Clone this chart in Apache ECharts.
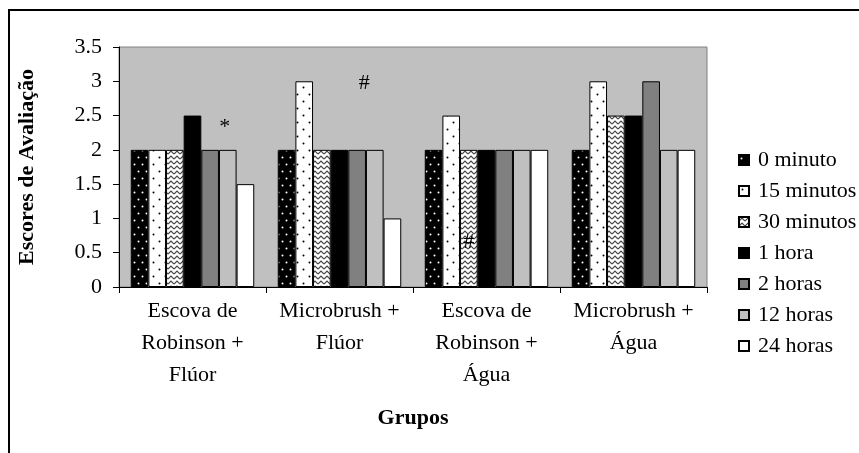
<!DOCTYPE html>
<html lang="pt">
<head>
<meta charset="UTF-8">
<title>Escores de Avaliação</title>
<script src="https://cdn.jsdelivr.net/npm/echarts@6/dist/echarts.min.js"></script>
<style>
  html, body { margin: 0; padding: 0; background: #fff; }
  #chart { width: 859px; height: 453px; }
</style>
</head>
<body>
<div id="chart"></div>
<script>
  // grupos (eixo x) e tempos (legenda)
  var grupos = ['Escova de\nRobinson +\nFlúor', 'Microbrush +\nFlúor', 'Escova de\nRobinson +\nÁgua', 'Microbrush +\nÁgua'];
  var tempos = ['0 minuto', '15 minutos', '30 minutos', '1 hora', '2 horas', '12 horas', '24 horas'];

  // escores por tempo, um valor por grupo
  var min0    = [2, 2, 2, 2];
  var min15   = [2, 3, 2.5, 3];
  var min30   = [2, 2, 2, 2.5];
  var hora1   = [2.5, 2, 2, 2.5];
  var horas2  = [2, 2, 2, 3];
  var horas12 = [2, 2, 2, 2];
  var horas24 = [1.5, 1, 2, 2];
  var valores = [min0, min15, min30, hora1, horas2, horas12, horas24];

  // eixo y
  var yMin = 0, yMax = 3.5, yPasso = 0.5;

  // marcas de significância: [grupo, tempo, texto]
  var marcas = [[0, 5, '*'], [1, 4, '#'], [2, 2, '#']];

  var fonte = 'Liberation Serif, Times New Roman, serif';
  var tam = 22;

  // texturas das barras
  function pontos(fundo, cor, w, h, pts) {
    var c = document.createElement('canvas');
    c.width = w; c.height = h;
    var g = c.getContext('2d');
    g.fillStyle = fundo; g.fillRect(0, 0, w, h);
    g.fillStyle = cor;
    pts.forEach(function (p) {
      g.beginPath(); g.arc(p[0], p[1], 1, 0, Math.PI * 2); g.fill();
    });
    return { image: c, repeat: 'repeat' };
  }
  function zigue() {
    var c = document.createElement('canvas');
    c.width = 6; c.height = 5;
    var g = c.getContext('2d');
    g.fillStyle = '#fff'; g.fillRect(0, 0, 6, 5);
    g.strokeStyle = '#444'; g.lineWidth = 1.2;
    g.beginPath(); g.moveTo(0, 4); g.lineTo(3, 1); g.lineTo(6, 4); g.stroke();
    return { image: c, repeat: 'repeat' };
  }

  var cores = [
    pontos('#000', '#fff', 8, 14, [[2.5, 3.5], [6.5, 10.5]]),
    pontos('#fff', '#000', 12, 14, [[3.5, 3.5], [9.5, 10.5]]),
    zigue(),
    '#000',
    '#808080',
    '#c0c0c0',
    '#fff'
  ];

  // posição de cada marca em relação à barra
  var estiloMarca = {
    '0,5': { position: 'top', distance: 12, offset: [-3, 0] },
    '1,4': { position: 'top', distance: 56, offset: [7, 0] },
    '2,2': { position: ['50%', 92], align: 'center', verticalAlign: 'middle' }
  };

  var series = tempos.map(function (nome, t) {
    return {
      name: nome,
      type: 'bar',
      barGap: '0%',
      barCategoryGap: '16%',
      itemStyle: { color: cores[t], borderColor: '#000', borderWidth: 1 },
      emphasis: { disabled: true },
      data: valores[t].map(function (v, gi) {
        var item = { value: v };
        marcas.forEach(function (m) {
          if (m[0] === gi && m[1] === t) {
            item.label = Object.assign({
              show: true,
              formatter: m[2],
              color: '#000',
              fontFamily: fonte,
              fontSize: tam
            }, estiloMarca[gi + ',' + t]);
          }
        });
        return item;
      })
    };
  });

  var chart = echarts.init(document.getElementById('chart'));
  chart.setOption({
    animation: false,
    textStyle: { fontFamily: fonte, color: '#000' },
    graphic: [{
      type: 'rect',
      shape: { x: 9, y: 10, width: 1000, height: 1000 },
      style: { fill: 'none', stroke: '#000', lineWidth: 2 },
      silent: true
    }],
    grid: {
      left: 119, right: 152, top: 47, bottom: 166,
      show: true, backgroundColor: '#c0c0c0', borderColor: '#808080', borderWidth: 1
    },
    legend: {
      orient: 'vertical',
      left: 733, top: 144,
      icon: 'rect',
      itemWidth: 10, itemHeight: 10, itemGap: 9,
      textStyle: { fontFamily: fonte, fontSize: tam, color: '#000', lineHeight: 20, padding: [0, 0, 0, 4] },
      data: tempos
    },
    xAxis: {
      type: 'category',
      data: grupos,
      name: 'Grupos',
      nameLocation: 'middle',
      nameGap: 120,
      nameTextStyle: { fontFamily: fonte, fontSize: tam, fontWeight: 'bold', color: '#000' },
      axisLine: { lineStyle: { color: '#000', width: 1 } },
      axisTick: { show: true, length: 6, lineStyle: { color: '#000' } },
      axisLabel: { fontFamily: fonte, fontSize: tam, color: '#000', lineHeight: 32, margin: 8, interval: 0 }
    },
    yAxis: {
      type: 'value',
      min: yMin, max: yMax, interval: yPasso,
      name: 'Escores de Avaliação',
      nameLocation: 'middle',
      nameGap: 81,
      nameRotate: 90,
      nameTextStyle: { fontFamily: fonte, fontSize: tam, fontWeight: 'bold', color: '#000' },
      axisLine: { show: true, lineStyle: { color: '#000', width: 1 } },
      axisTick: { show: true, length: 6, lineStyle: { color: '#000' } },
      splitLine: { show: false },
      axisLabel: { fontFamily: fonte, fontSize: tam, color: '#000', margin: 17 }
    },
    series: series
  });
</script>
</body>
</html>
